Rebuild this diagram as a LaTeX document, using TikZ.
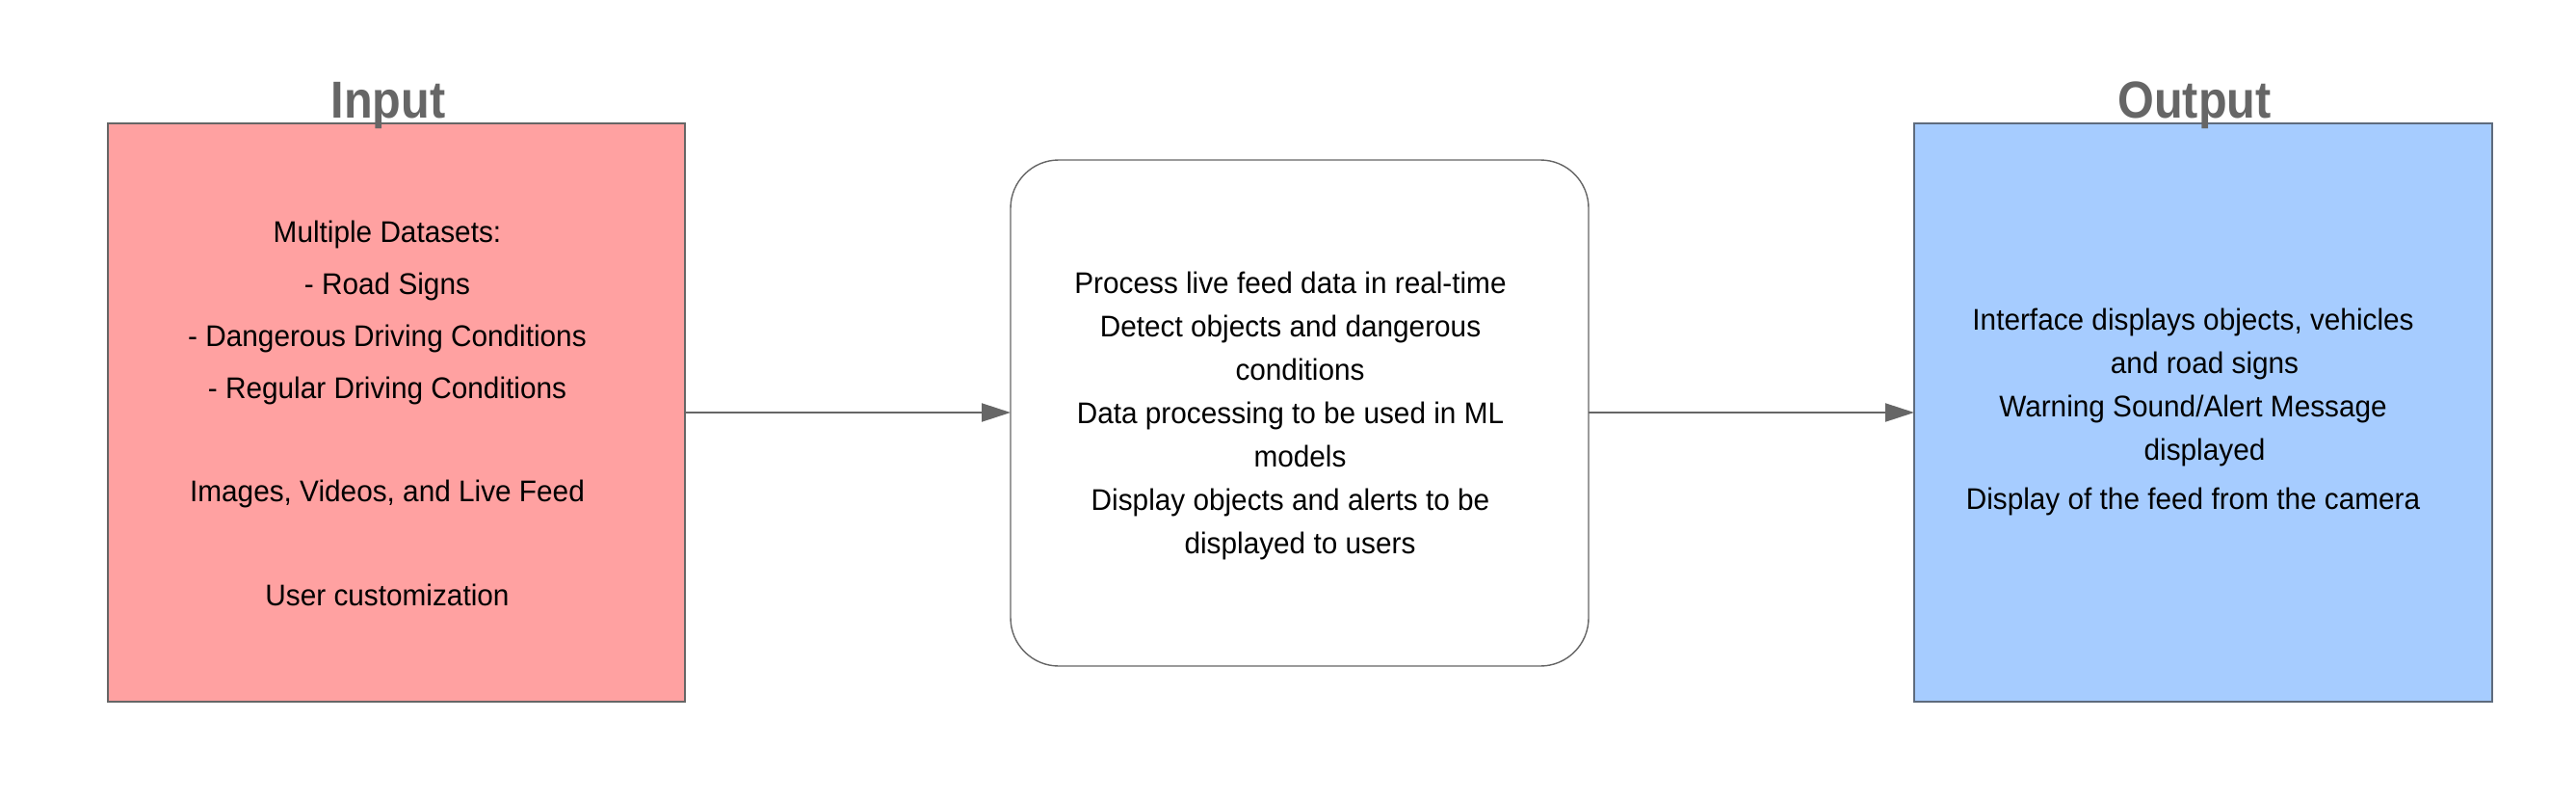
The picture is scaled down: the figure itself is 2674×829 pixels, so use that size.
\documentclass[tikz,border=0pt]{standalone}
\usepackage{fontspec}
\setmainfont{Liberation Sans}[FakeStretch=0.96]
\newfontfamily\titlefont{Liberation Sans}[FakeStretch=0.9]
\usetikzlibrary{arrows.meta}
\definecolor{edgegray}{HTML}{666666}
\definecolor{redfill}{HTML}{FFA1A1}
\definecolor{bluefill}{HTML}{A6CCFF}
\definecolor{blueedge}{HTML}{5E6B7D}
\newcommand{\trailsp}[1]{\kern#1}
\begin{document}
\begin{tikzpicture}[x=0.5pt,y=-0.5pt,
  boxstyle/.style={draw=edgegray,line width=0.7pt},
  titlestyle/.style={text=edgegray,font={\titlefont\fontsize{27}{30}\selectfont\bfseries},anchor=base,inner sep=0pt},
  bodystyle/.style={align=center,inner sep=0pt,text=black},
  conn/.style={draw=edgegray,line width=1pt,-{Triangle[length=15pt,width=9.5pt]}}]
\useasboundingbox (0,0) rectangle (2674,829);
\fill[white] (0,0) rectangle (2674,829);
% boxes
\draw[boxstyle,fill=redfill] (112,128) coordinate (inTL) rectangle (711,728) coordinate (inBR);
\draw[boxstyle,fill=bluefill,draw=blueedge] (1987,128) coordinate (outTL) rectangle (2587,728) coordinate (outBR);
\draw[boxstyle,fill=white,rounded corners=25pt] (1049,166) coordinate (procTL) rectangle (1649,691) coordinate (procBR);
% anchor coordinates for connectors
\coordinate (inE) at (711,428);
\coordinate (procW) at (1049,428);
\coordinate (procE) at (1649,428);
\coordinate (outW) at (1987,428);
% titles
\node[titlestyle] (intitle) at (403,123) {Input};
\node[titlestyle] (outtitle) at (2278,123) {Output};
% texts
\node[bodystyle,font={\fontsize{15.5}{26.9}\selectfont}] (intext) at (402,429) {Multiple Datasets:\\- Road Signs\\- Dangerous Driving Conditions\\- Regular Driving Conditions\\[26.9pt]Images, Videos, and Live Feed\\[26.9pt]User customization};
\node[bodystyle,font={\fontsize{15.5}{22.5}\selectfont}] (proctext) at (1349.5,431) {Process live feed data in real-time\trailsp{10pt}\\Detect objects and dangerous\trailsp{10pt}\\conditions\\Data processing to be used in ML\trailsp{10pt}\\models\\Display objects and alerts to be\trailsp{10pt}\\displayed to users};
\node[bodystyle,font={\fontsize{15.5}{22.5}\selectfont}] (outtext) at (2288.5,427) {Interface displays objects, vehicles\trailsp{12pt}\\and road signs\\Warning Sound/Alert Message\trailsp{12pt}\\displayed\\[3pt]Display of the feed from the camera\trailsp{12pt}};
% connectors
\draw[conn] (inE) -- (procW);
\draw[conn] (procE) -- (outW);
\end{tikzpicture}
\end{document}
